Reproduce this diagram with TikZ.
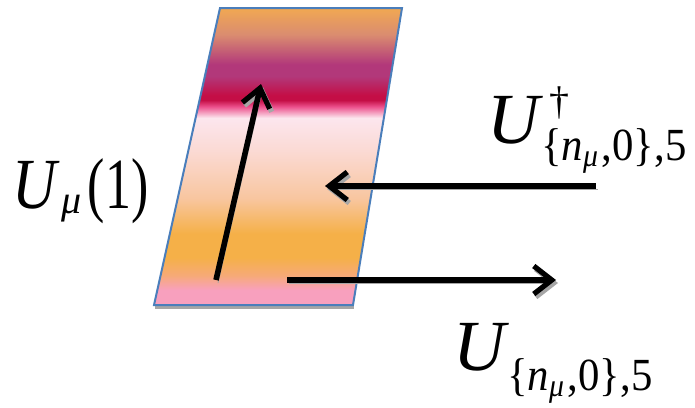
\documentclass[tikz,border=0pt]{standalone}
\usepackage{fontspec}
\setmainfont{Liberation Serif}
\usepackage{graphicx}
\usetikzlibrary{arrows.meta}

% colour bands of the plaquette, bottom to top
\definecolor{bandorange}{RGB}{241,168,82}
\definecolor{bandtan}{RGB}{218,140,112}
\definecolor{bandpurple}{RGB}{178,56,122}
\definecolor{bandcrimson}{RGB}{196,14,70}
\definecolor{bandrose}{RGB}{236,80,140}
\definecolor{bandlight}{RGB}{252,230,238}
\definecolor{bandblush}{RGB}{251,218,212}
\definecolor{bandpeach}{RGB}{248,198,160}
\definecolor{bandgold}{RGB}{245,176,72}
\definecolor{bandpink}{RGB}{248,160,190}
\definecolor{edgeblue}{RGB}{74,126,187}

\pgfdeclareverticalshading{plaquette}{100bp}{%
  color(0bp)=(bandpink); color(25bp)=(bandpink); color(27.5bp)=(bandpink);
  color(30bp)=(bandgold!60!bandpink); color(33bp)=(bandgold); color(37bp)=(bandgold);
  color(43bp)=(bandpeach); color(51bp)=(bandblush); color(56.5bp)=(bandlight);
  color(58.4bp)=(bandrose); color(59.5bp)=(bandcrimson); color(60.3bp)=(bandcrimson);
  color(63.5bp)=(bandpurple); color(65.5bp)=(bandpurple); color(70.5bp)=(bandtan);
  color(75bp)=(bandorange); color(100bp)=(bandorange)}

% sizes of the label parts
\newcommand{\subsize}{\fontsize{23}{25}\selectfont}
\newcommand{\subsubsize}{\fontsize{16}{18}\selectfont}
\newcommand{\linksub}{\scalebox{0.93}[1]{\subsize\{\textit{n}\raisebox{-3pt}{\subsubsize\textit{μ}}\hspace{2pt},0\},5}}

\begin{document}
\begin{tikzpicture}[
    x=0.5pt, y=-0.5pt,
    link/.style={line width=2.8pt, -{Straight Barb[length=9pt,width=14pt,line width=2.6pt]},
      preaction={draw=black!35, transform canvas={shift={(1pt,-1.5pt)}}}},
    label/.style={inner sep=0pt, font=\fontsize{36}{40}\selectfont}
]
    \useasboundingbox (0,0) rectangle (695,407);

    % plaquette
    \coordinate (p1) at (154,305);
    \coordinate (p2) at (353,305);
    \coordinate (p3) at (402,8);
    \coordinate (p4) at (220,8);
    \draw[black!35, line width=2pt] ([shift={(1,2)}]p1) -- ([shift={(1,2)}]p2);
    \shade[shading=plaquette] (p1) -- (p2) -- (p3) -- (p4) -- cycle;
    \draw[edgeblue, line width=1pt] (p1) -- (p2) -- (p3) -- (p4) -- cycle;

    % link ends
    \coordinate (up0) at (216,280);
    \coordinate (up1) at (261,84);
    \coordinate (back0) at (596,186);
    \coordinate (back1) at (325,186);
    \coordinate (fwd0) at (287,280);
    \coordinate (fwd1) at (556,280);

    % links
    \draw[link] (up0) -- (up1);
    \draw[link] (back0) -- (back1);
    \draw[link] (fwd0) -- (fwd1);

    % labels
    \node[label, anchor=base west] (umu) at (12,208)
      {\scalebox{0.85}[1]{\textit{U}}\hspace{1pt}\raisebox{-2.5pt}{\fontsize{20}{22}\selectfont\textit{μ}}\hspace{3pt}\scalebox{0.72}[1]{(1)}};
    \node[label, anchor=base west] (udag) at (487,143)
      {\textit{U}\rlap{\hspace{3pt}\raisebox{14.5pt}{\fontsize{20}{22}\selectfont †}}\hspace{-1pt}\raisebox{-8.5pt}{\linksub}};
    \node[label, anchor=base west] (ufwd) at (453,370)
      {\textit{U}\hspace{-1pt}\raisebox{-10pt}{\linksub}};
\end{tikzpicture}
\end{document}
